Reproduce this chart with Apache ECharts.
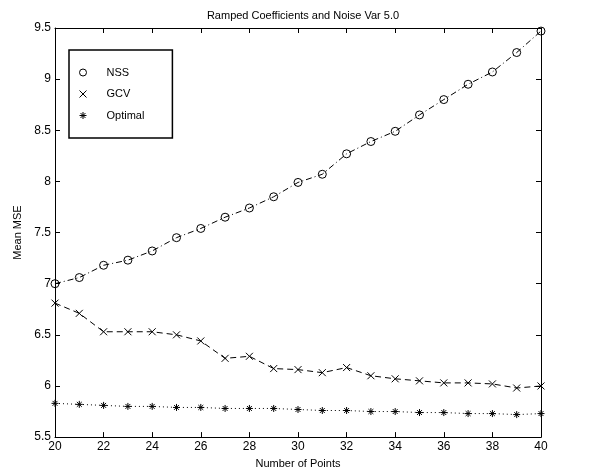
<!DOCTYPE html>
<html><head><meta charset="utf-8">
<script src="https://cdn.jsdelivr.net/npm/echarts@6/dist/echarts.min.js"></script>
<style>html,body{margin:0;padding:0;background:#fff}#c{width:591px;height:474px}</style>
</head><body><div id="c"></div>
<script>
const points = [20,21,22,23,24,25,26,27,28,29,30,31,32,33,34,35,36,37,38,39,40];
const nss = [7.00,7.06,7.18,7.23,7.32,7.45,7.54,7.65,7.74,7.85,7.99,8.07,8.27,8.39,8.49,8.65,8.80,8.95,9.07,9.26,9.47];
const gcv = [6.81,6.71,6.53,6.53,6.53,6.50,6.44,6.27,6.29,6.17,6.16,6.13,6.18,6.10,6.07,6.05,6.03,6.03,6.02,5.98,6.00];
const optimal = [5.83,5.82,5.81,5.80,5.80,5.79,5.79,5.78,5.78,5.78,5.77,5.76,5.76,5.75,5.75,5.74,5.74,5.73,5.73,5.72,5.73];
const names = ['NSS','GCV','Optimal'];

const FONT = '"Liberation Sans", Arial, sans-serif';
const circSym = 'path://M10,5A5,5 0 1 1 0,5A5,5 0 1 1 10,5Z';
const crossSym = 'path://M0,0L10,10M10,0L0,10';
const starSym = 'path://M5,0L5,10M0,5L10,5M1.5,1.5L8.5,8.5M8.5,1.5L1.5,8.5';

function pairs(arr){ return points.map((x,i)=>[x,arr[i]]); }

const chart = echarts.init(document.getElementById('c'));
const axisCommon = {
  axisLine:{show:true,onZero:false,lineStyle:{color:'#000',width:1}},
  axisTick:{show:true,inside:true,length:5,lineStyle:{color:'#000'}},
  splitLine:{show:false}
};
const symStyle = {color:'transparent',borderColor:'#000',borderWidth:1};
chart.setOption({
  animation:false,
  backgroundColor:'#fff',
  title:{text:'Ramped Coefficients and Noise Var 5.0',left:298,top:5,textAlign:'center',
    textStyle:{fontFamily:FONT,fontSize:11,fontWeight:'normal',color:'#000'}},
  grid:{left:55,right:50,top:28,bottom:34},
  legend:{
    orient:'vertical',left:69,top:50,
    borderColor:'#000',borderWidth:1.5,padding:[17,28,17,10],
    itemWidth:7,itemHeight:7,itemGap:10.5,
    textStyle:{fontFamily:FONT,fontSize:11,color:'#000',padding:[0,0,0,15]},
    data:[
      {name:names[0],icon:circSym,itemStyle:symStyle},
      {name:names[1],icon:crossSym,itemStyle:symStyle},
      {name:names[2],icon:starSym,itemStyle:symStyle}
    ]
  },
  xAxis:[
    Object.assign({type:'value',min:20,max:40,interval:2,position:'bottom',
      name:'Number of Points',nameLocation:'middle',nameGap:19,
      nameTextStyle:{fontFamily:FONT,fontSize:11,color:'#000'},
      axisLabel:{fontFamily:FONT,fontSize:12,color:'#000',margin:4}},axisCommon),
    Object.assign({type:'value',min:20,max:40,interval:2,position:'top',
      axisLabel:{show:false}},axisCommon)
  ],
  yAxis:[
    Object.assign({type:'value',min:5.5,max:9.5,interval:0.5,position:'left',
      name:'Mean MSE',nameLocation:'middle',nameGap:32,
      nameTextStyle:{fontFamily:FONT,fontSize:11,color:'#000'},
      axisLabel:{fontFamily:FONT,fontSize:12,color:'#000',margin:4}},axisCommon),
    Object.assign({type:'value',min:5.5,max:9.5,interval:0.5,position:'right',
      axisLabel:{show:false}},axisCommon)
  ],
  series:[
    {name:names[0],type:'line',data:pairs(nss),symbol:circSym,symbolSize:8,
      lineStyle:{color:'#000',width:1,type:[6,3,1,3]},
      itemStyle:symStyle,z:3},
    {name:names[1],type:'line',data:pairs(gcv),symbol:crossSym,symbolSize:7,
      lineStyle:{color:'#000',width:1,type:[6,4]},
      itemStyle:symStyle,z:3},
    {name:names[2],type:'line',data:pairs(optimal),symbol:starSym,symbolSize:7,
      lineStyle:{color:'#000',width:1,type:[1,3]},
      itemStyle:symStyle,z:3}
  ]
});
</script></body></html>
